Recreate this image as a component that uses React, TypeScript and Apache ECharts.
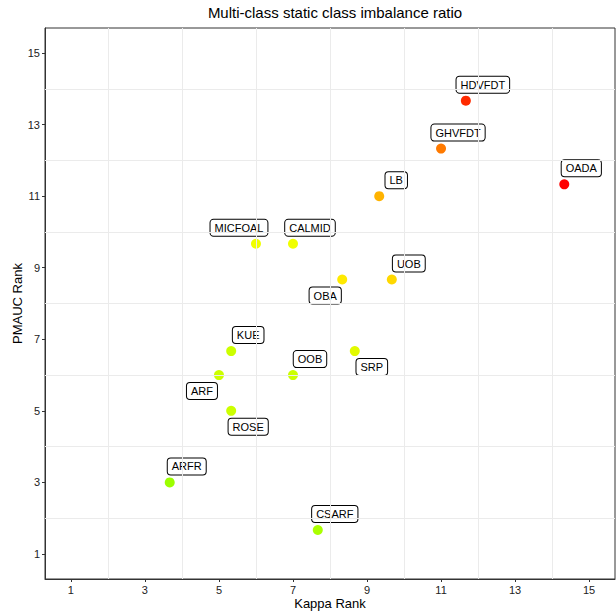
import React, { useEffect, useRef } from "react";
import * as echarts from "echarts";

const methods = ["HDVFDT", "GHVFDT", "OADA", "LB", "MICFOAL", "CALMID", "OBA", "UOB", "KUE", "SRP", "ARF", "OOB", "ROSE", "ARFR", "CSARF"];
const kappaRank = [11.67, 11.0, 14.33, 9.33, 6.0, 7.0, 8.33, 9.67, 5.33, 8.67, 5.0, 7.0, 5.33, 3.67, 7.67];
const pmaucRank = [13.67, 12.33, 11.33, 11.0, 9.67, 9.67, 8.67, 8.67, 6.67, 6.67, 6.0, 6.0, 5.0, 3.0, 1.67];
const pointColors = ["#FF2A00", "#FF7A00", "#FF0000", "#FFB300", "#F0FF00", "#F0FF00", "#FFEA00", "#FFD800", "#CCFF00", "#E2FA00", "#CCFF00", "#CCFF00", "#CCFF00", "#9CFF00", "#AAFF00"];
// label placement direction (ggrepel-like): [sx, sy]
const labelDirs = [[1, -1], [1, -1], [1, -1], [1, -1], [-1, -1], [1, -1], [-1, 1], [1, -1], [1, -1], [1, 1], [-1, 1], [1, -1], [1, 1], [1, -1], [1, -1]];
const tickValues = [1, 3, 5, 7, 9, 11, 13, 15];
const gridValues = [2, 4, 6, 8, 10, 12, 14];

const FONT = "Arial";

export default function App() {
  const ref = useRef<HTMLDivElement>(null);
  useEffect(() => {
    document.body.style.margin = "0";
    if (!ref.current) return;
    const chart = echarts.init(ref.current, null, { renderer: "svg" });
    const data = methods.map((m, i) => ({
      name: m,
      value: [kappaRank[i], pmaucRank[i]],
      itemStyle: { color: pointColors[i], opacity: 1 },
    }));
    const axisCommon = {
      type: "value" as const,
      min: 0.3,
      max: 15.7,
      splitLine: { show: false },
      axisLine: { show: true, lineStyle: { color: "#333333", width: 1 } },
      axisTick: { show: true, customValues: tickValues, length: 3, lineStyle: { color: "#333333" } },
      axisLabel: { customValues: tickValues, color: "#222", fontSize: 11, fontFamily: FONT, margin: 5 },
      nameLocation: "middle" as const,
      nameMoveOverlap: false,
      nameTextStyle: { color: "#000", fontSize: 13, fontFamily: FONT },
    };
    chart.setOption({
      animation: false,
      backgroundColor: "#fff",
      title: {
        text: "Multi-class static class imbalance ratio",
        left: 330,
        top: 0,
        textAlign: "center",
        textStyle: { fontSize: 15, fontWeight: "normal", color: "#000", fontFamily: FONT },
      },
      grid: {
        left: 45, top: 28, right: 1, bottom: 33,
        outerBoundsMode: "none",
        containLabel: false,
        show: true, borderColor: "#333333", borderWidth: 1, backgroundColor: "#fff",
      },
      xAxis: { ...axisCommon, name: "Kappa Rank", nameGap: 18 },
      yAxis: { ...axisCommon, name: "PMAUC Rank", nameGap: 21 },
      series: [
        {
          type: "scatter",
          data: [],
          z: 1,
          silent: true,
          markLine: {
            silent: true,
            symbol: ["none", "none"],
            label: { show: false },
            lineStyle: { color: "#EBEBEB", width: 1, type: "solid" },
            data: [
              ...gridValues.map((v) => ({ xAxis: v })),
              ...gridValues.map((v) => ({ yAxis: v })),
            ],
          },
        },
        {
          type: "scatter",
          z: 3,
          symbolSize: 10,
          data,
          label: {
            show: true,
            position: "inside",
            formatter: (p: any) => p.name,
            color: "#000",
            fontSize: 11,
            fontFamily: FONT,
            textBorderWidth: 0,
            textBorderColor: "transparent",
            backgroundColor: "#fff",
            borderColor: "#000",
            borderWidth: 1,
            borderRadius: 3,
            padding: [3, 4, 2, 4],
          },
          labelLayout: (params: any) => {
            const d = labelDirs[params.dataIndex];
            return { dx: d[0] * 17, dy: d[1] * 16, hideOverlap: false };
          },
        },
      ],
    });
    return () => chart.dispose();
  }, []);
  return <div ref={ref} style={{ width: 616, height: 612 }} />;
}
